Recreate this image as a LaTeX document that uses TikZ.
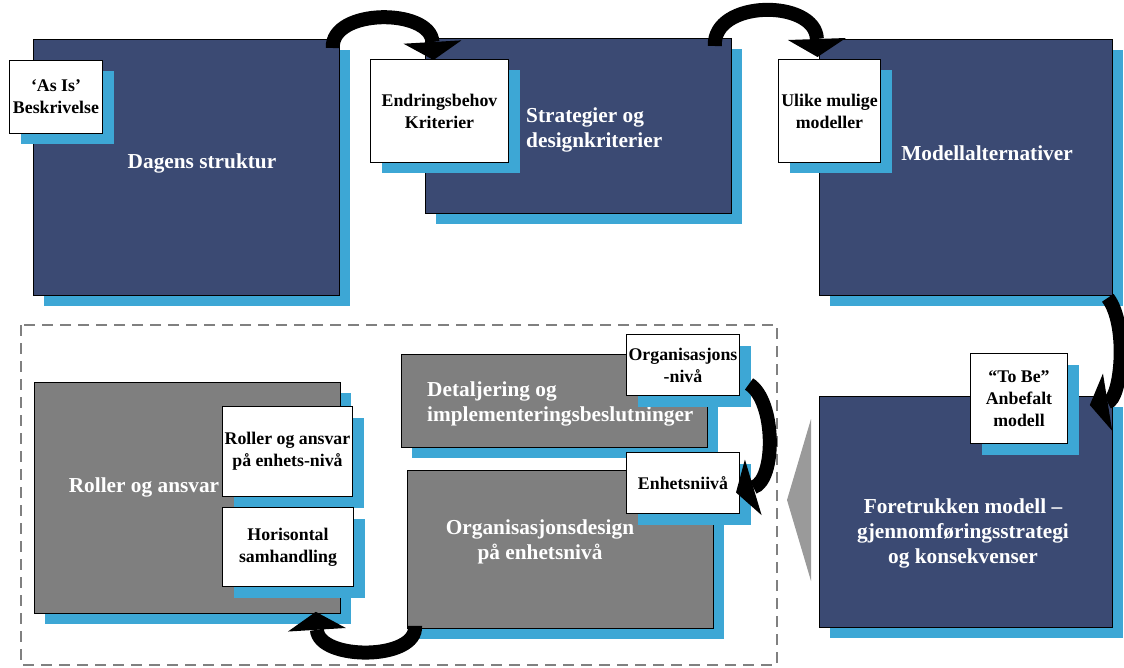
\documentclass[tikz,border=0pt]{standalone}
\usepackage{fontspec}
\setmainfont{Liberation Serif}
\usetikzlibrary{calc,shadows,arrows.meta}
\definecolor{navy}{HTML}{3B4A73}
\definecolor{sky}{HTML}{3DA7D5}
\definecolor{slate}{HTML}{7F7F7F}
\definecolor{wedge}{HTML}{9A9A9A}
\definecolor{dashgrey}{HTML}{808080}

\begin{document}
\begin{tikzpicture}[x=1pt,y=-1pt,
  offshadow/.style={drop shadow={shadow xshift=11pt,shadow yshift=-11pt,fill=sky,opacity=1}},
  bigbox/.style={offshadow,draw=black,line width=0.8pt,inner sep=0pt,anchor=north west},
  navybox/.style={bigbox,fill=navy},
  greybox/.style={bigbox,fill=slate},
  notebox/.style={offshadow,draw=black,line width=1pt,fill=white,inner sep=0pt,
    anchor=north west,align=center,font=\bfseries\fontsize{17.8}{22}\selectfont},
  boxtitle/.style={text=white,inner sep=0pt,font=\bfseries\fontsize{21.3}{25}\selectfont},
  bendarrow/.style={line width=14pt,draw=black,
    -{Triangle[width=58pt,length=18pt,line width=0pt]}},
]
\useasboundingbox (0,0) rectangle (1124,668);

% dashed frame around the unit-level stage
\draw[dashgrey,line width=2.5pt,dash pattern=on 11pt off 7pt] (21,325) rectangle (777,665);

% grey wedge pointing from the preferred model towards the unit-level stage
\fill[wedge] (811,419) -- (787,500) -- (811,581) -- cycle;

% main stage boxes
\node[navybox,minimum width=306pt,minimum height=256pt] (b1) at (33,39) {};
\node[navybox,minimum width=306pt,minimum height=175pt] (b2) at (425,38) {};
\node[navybox,minimum width=293pt,minimum height=256pt] (b3) at (819,39) {};
\node[navybox,minimum width=293pt,minimum height=231pt] (b4) at (819,396) {};
\node[greybox,minimum width=306pt,minimum height=93pt]  (d1) at (401,354) {};
\node[greybox,minimum width=306pt,minimum height=158pt] (d2) at (407,470) {};
\node[greybox,minimum width=306pt,minimum height=231pt] (r1) at (34,382) {};

% stage titles
\node[boxtitle] (t1) at (202,163) {Dagens struktur};
\node[boxtitle,anchor=west,align=left] (t2) at (526,130) {Strategier og\\designkriterier};
\node[boxtitle] (t3) at (987,153) {Modellalternativer};
\node[boxtitle,align=center] (t4) at (963,533) {Foretrukken modell –\\gjennomføringsstrategi\\og konsekvenser};
\node[boxtitle,anchor=west,align=left] (td1) at (427,404) {Detaljering og\\implementeringsbeslutninger};
\node[boxtitle,align=center] (td2) at (540,542) {Organisasjonsdesign\\på enhetsnivå};
\node[boxtitle] (tr1) at (144,487) {Roller og ansvar};

% white note cards
\node[notebox,minimum width=93pt,minimum height=73pt]   (s1) at (9,60)    {‘As Is’\\Beskrivelse};
\node[notebox,minimum width=138pt,minimum height=103pt] (s2) at (370,59)  {Endringsbehov\\Kriterier};
\node[notebox,minimum width=102pt,minimum height=103pt] (s3) at (778,59)  {Ulike mulige\\modeller};
\node[notebox,minimum width=97pt,minimum height=90pt]   (s4) at (970,353) {“To Be”\\Anbefalt\\modell};
\node[notebox,minimum width=113pt,minimum height=61pt]  (s5) at (626,334) {Organisasjons\\-nivå};
\node[notebox,minimum width=113pt,minimum height=61pt]  (s6) at (626,452) {Enhetsniivå};
\node[notebox,minimum width=130pt,minimum height=90pt]  (s7) at (222,406) {Roller og ansvar\\på enhets-nivå};
\node[notebox,minimum width=131pt,minimum height=79pt]  (s8) at (222,507) {Horisontal\\samhandling};

% curved flow arrows between the stages
\draw[bendarrow] ($(b1.north east)+(-7,9)$) .. controls +(-2,-40) and +(-3,-52) .. ($(s2.north)+(-6,1)$);
\draw[bendarrow] ($(b2.north east)+(-17,8)$) .. controls +(-2,-47) and +(-2,-58) .. ($(s3.north)+(-12,-2)$);
\draw[bendarrow] ($(b3.south east)+(-5,2)$) .. controls +(21,28) and +(31,-5) .. ($(b4.north east)+(-23,9)$);
\draw[bendarrow] ($(s5.south east)+(9,-12)$) .. controls +(27,17) and +(40,-12) .. ($(s6.east)+(-4,9.5)$);
\draw[bendarrow] ($(d2.south west)+(8,-3)$) .. controls +(3,35) and +(3,49) .. ($(r1.south east)+(-25,-2)$);

\end{tikzpicture}
\end{document}
